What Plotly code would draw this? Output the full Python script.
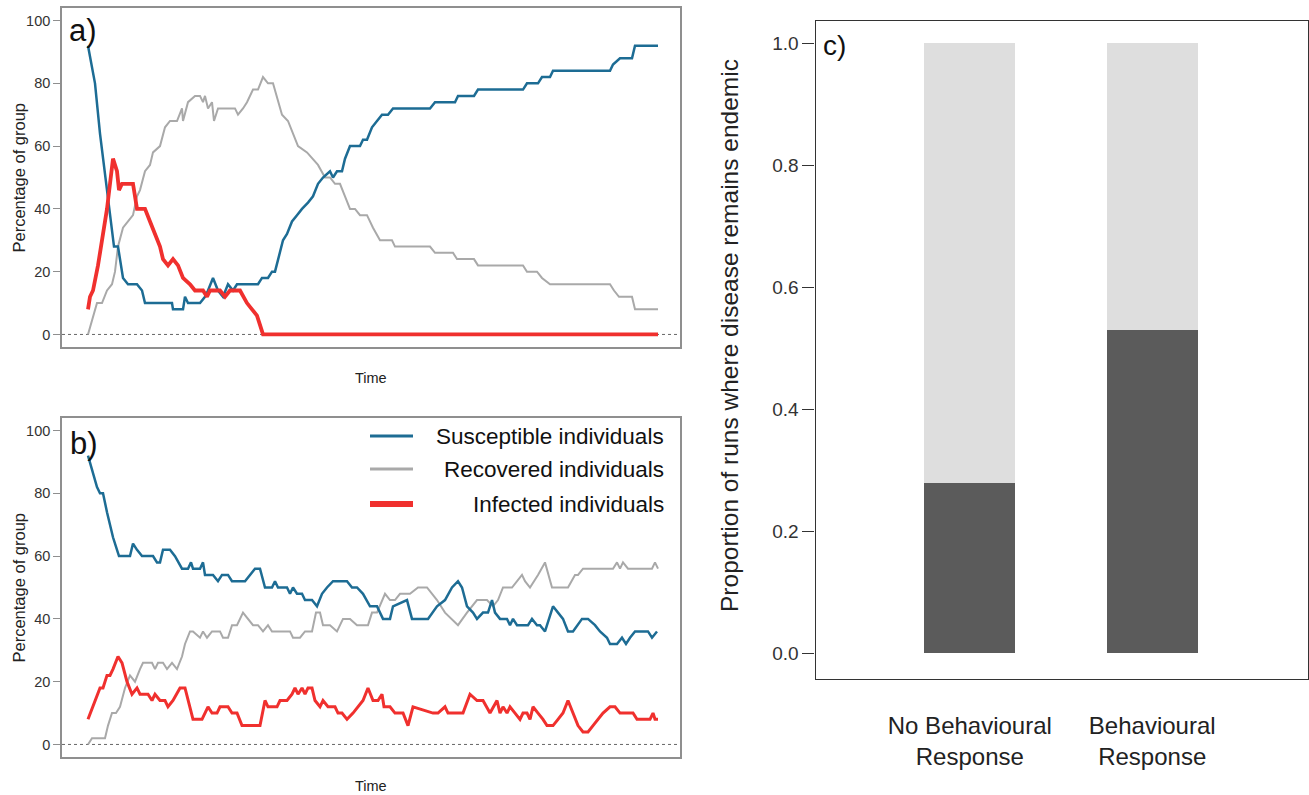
import plotly.graph_objects as go

# ---------------- DATA ----------------
# Panel a) - no behavioural response (disease dies out)
t_a_S = [0, 7, 12, 19, 24, 26, 30, 35, 40, 49, 54, 57, 84, 85, 95, 97, 100, 112, 117, 120,
         125, 130, 135, 140, 145, 149, 170, 174, 180, 184, 187, 190, 195, 199, 204, 209, 214, 220, 225, 230,
         235, 242, 245, 249, 254, 257, 262, 272, 275, 279, 284, 289, 294, 300, 305, 342, 347, 367, 370, 386,
         390, 435, 439, 450, 454, 462, 465, 522, 525, 532, 544, 547, 570]
S_a = [92, 80, 64, 46, 32, 28, 28, 18, 16, 16, 14, 10, 10, 8, 8, 12, 10, 10, 12, 14,
       18, 14, 12, 16, 14, 16, 16, 18, 18, 20, 20, 24, 30, 32, 36, 38, 40, 42, 44, 48,
       50, 52, 50, 52, 52, 56, 60, 60, 62, 62, 66, 68, 70, 70, 72, 72, 74, 74, 76, 76,
       78, 78, 80, 80, 82, 82, 84, 84, 86, 88, 88, 92, 92]

t_a_R = [0, 9, 14, 19, 24, 27, 30, 35, 40, 45, 49, 52, 57, 62, 65, 72, 77, 82, 89, 94,
         95, 100, 107, 112, 115, 117, 120, 124, 126, 130, 147, 150, 155, 159, 165, 170, 175, 180, 185, 194,
         200, 205, 210, 219, 225, 230, 237, 242, 247, 252, 257, 262, 267, 272, 279, 285, 292, 304, 307, 342,
         347, 365, 369, 386, 390, 435, 439, 449, 454, 462, 522, 526, 531, 544, 547, 570]
R_a = [0, 10, 10, 14, 16, 20, 28, 34, 36, 38, 44, 46, 52, 54, 58, 60, 66, 68, 68, 72,
       68, 74, 76, 76, 74, 76, 72, 74, 68, 72, 72, 70, 72, 74, 78, 78, 82, 80, 80, 70,
       68, 64, 60, 58, 56, 54, 50, 50, 48, 48, 44, 40, 40, 38, 38, 34, 30, 30, 28, 28,
       26, 26, 24, 24, 22, 22, 20, 20, 18, 16, 16, 14, 12, 12, 8, 8]

t_a_I = [0, 2, 5, 9, 10, 12, 15, 19, 22, 25, 29, 31, 34, 45, 49, 57, 62, 67, 72, 75,
         80, 85, 90, 95, 102, 107, 115, 119, 122, 125, 132, 137, 142, 152, 159, 164, 169, 171, 175, 570]
I_a = [8, 12, 14, 20, 22, 26, 32, 40, 48, 56, 52, 46, 48, 48, 40, 40, 36, 32, 28, 24,
       22, 24, 22, 18, 16, 14, 14, 12, 14, 14, 14, 12, 14, 14, 10, 8, 6, 4, 0, 0]

# Panel b) - behavioural response (disease remains endemic)
t_b_S = [0, 5, 9, 12, 15, 19, 22, 25, 29, 31, 42, 45, 49, 54, 65, 69, 72, 75, 82, 87,
         94, 100, 103, 105, 112, 115, 117, 125, 130, 134, 140, 144, 157, 162, 167, 172, 177, 184, 187, 190,
         199, 202, 205, 209, 214, 217, 224, 229, 234, 239, 245,
         250, 259, 264, 269, 275, 282, 289, 295, 302, 305, 319, 322, 324, 340, 349, 357, 364, 370, 374,
         379, 385, 389, 395, 400, 404, 407, 412, 419, 422, 425, 429, 440, 444, 449, 452, 457, 465, 470, 475,
         480, 485, 494, 500, 507, 512, 519, 522, 529, 534, 538, 542, 547, 560, 564, 569]
S_b = [92, 86, 82, 80, 80, 74, 70, 66, 62, 60, 60, 64, 62, 60, 60, 58, 58, 62, 62, 60,
       56, 56, 58, 56, 56, 58, 54, 54, 52, 54, 54, 52, 52, 54, 56, 56, 50, 50, 52, 50,
       50, 48, 50, 48, 48, 46, 46, 44, 48, 50, 52,
       52, 52, 50, 50, 48, 44, 44, 40, 40, 44, 46, 42, 40, 40, 44, 46, 50, 52, 50,
       44, 42, 40, 42, 42, 46, 42, 40, 40, 38, 40, 38, 38, 40, 38, 38, 36, 44, 42, 40,
       36, 36, 40, 40, 38, 36, 34, 32, 32, 34, 32, 34, 36, 36, 34, 36]

t_b_R = [0, 4, 17, 20, 24, 28, 32, 37, 42, 47, 52, 55, 64, 67, 70, 75, 79, 84, 89, 94,
         97, 102, 105, 112, 115, 119, 124, 132, 135, 140, 144, 149, 155, 160, 165, 170, 175, 180, 184, 202,
         205, 212, 217, 224, 228, 232, 235, 242,
         249, 255, 262, 269, 280, 284, 289, 297, 302, 307, 312, 322, 330, 339, 349, 357, 364, 370, 379, 389,
         399, 405, 410, 415, 424, 434, 437, 442, 450, 457, 464, 480, 487, 490, 495, 525, 529, 532, 535, 540,
         564, 567, 570]
R_b = [0, 2, 2, 6, 10, 10, 12, 18, 22, 20, 24, 26, 26, 24, 26, 26, 24, 26, 24, 28,
       32, 36, 36, 34, 36, 34, 36, 36, 34, 34, 38, 38, 42, 40, 38, 38, 36, 38, 36, 36,
       34, 34, 36, 36, 42, 42, 38, 38,
       36, 40, 40, 38, 38, 42, 42, 48, 46, 46, 48, 48, 50, 50, 46, 42, 40, 38, 42, 46,
       46, 44, 46, 50, 50, 54, 52, 50, 54, 58, 50, 50, 54, 54, 56, 56, 58, 56, 58, 56,
       56, 58, 56]

t_b_I = [0, 5, 12, 15, 19, 22, 25, 30, 34, 39, 44, 49, 52, 60, 64, 67, 72, 77, 80, 85,
         92, 97, 102, 105, 114, 120, 124, 129, 132, 140, 144, 149, 154, 172, 177, 180, 189, 192, 199, 204,
         207, 210, 214, 217, 220, 224, 227, 232, 235, 240,
         247, 250, 254, 259, 265, 270, 275, 280, 285, 290, 294, 296, 302, 307, 315, 320, 325, 345, 350, 357,
         360, 375, 382, 389, 395, 402, 409, 412, 415, 419, 422, 427, 432, 435, 439, 442, 445, 450, 455, 459,
         465, 470, 475, 480, 485, 490, 495, 500, 505, 510, 515, 522, 527, 532, 545, 549, 562, 565, 567, 570]
I_b = [8, 12, 18, 18, 22, 22, 24, 28, 26, 20, 16, 18, 16, 16, 14, 16, 14, 14, 12, 14,
       18, 18, 12, 8, 8, 12, 10, 10, 12, 12, 10, 10, 6, 6, 14, 12, 12, 14, 14, 16,
       18, 16, 18, 16, 18, 18, 14, 12, 14, 12,
       12, 10, 10, 8, 10, 12, 14, 18, 14, 14, 16, 12, 12, 10, 10, 6, 12, 10, 10, 12,
       10, 10, 16, 14, 14, 10, 14, 10, 12, 10, 12, 10, 8, 10, 10, 8, 12, 10, 8, 6,
       6, 8, 10, 14, 10, 6, 4, 4, 6, 8, 10, 12, 12, 10, 10, 8, 8, 10, 8, 8]

# Panel c)
categories = ["No Behavioural<br>Response", "Behavioural<br>Response"]
endemic = [0.28, 0.53]
not_endemic = [0.72, 0.47]
c_ticks = [0.0, 0.2, 0.4, 0.6, 0.8, 1.0]
c_ticklabels = ["0.0", "0.2", "0.4", "0.6", "0.8", "1.0"]
pct_ticks = [0, 20, 40, 60, 80, 100]

series_names = ["Susceptible individuals", "Recovered individuals", "Infected individuals"]

# ---------------- STYLE ----------------
W, H = 1309, 795
BLUE = "#1d6c94"
GREY = "#a9a9a9"
RED = "#f0302e"
FONT = "Liberation Sans, Arial, sans-serif"

def px(x):
    return x / W

def py(y):
    return 1 - y / H

fig = go.Figure()

# panel a
fig.add_trace(go.Scatter(x=t_a_R, y=R_a, mode="lines", line=dict(color=GREY, width=2),
                         name=series_names[1], xaxis="x", yaxis="y", showlegend=False))
fig.add_trace(go.Scatter(x=t_a_S, y=S_a, mode="lines", line=dict(color=BLUE, width=2.5),
                         name=series_names[0], xaxis="x", yaxis="y", showlegend=False))
fig.add_trace(go.Scatter(x=t_a_I, y=I_a, mode="lines", line=dict(color=RED, width=3.8),
                         name=series_names[2], xaxis="x", yaxis="y", showlegend=False))
# panel b
fig.add_trace(go.Scatter(x=t_b_R, y=R_b, mode="lines", line=dict(color=GREY, width=2),
                         name=series_names[1], xaxis="x2", yaxis="y2", showlegend=False))
fig.add_trace(go.Scatter(x=t_b_S, y=S_b, mode="lines", line=dict(color=BLUE, width=2.5),
                         name=series_names[0], xaxis="x2", yaxis="y2", showlegend=False))
fig.add_trace(go.Scatter(x=t_b_I, y=I_b, mode="lines", line=dict(color=RED, width=3),
                         name=series_names[2], xaxis="x2", yaxis="y2", showlegend=False))
# panel c
fig.add_trace(go.Bar(x=[0, 1], y=endemic, width=0.5, marker=dict(color="#5b5b5b", line=dict(width=0)),
                     xaxis="x3", yaxis="y3", showlegend=False, name="Endemic"))
fig.add_trace(go.Bar(x=[0, 1], y=not_endemic, width=0.5, marker=dict(color="#dedede", line=dict(width=0)),
                     xaxis="x3", yaxis="y3", showlegend=False, name="Not endemic"))

box_grey = "#8f8f8f"
common_x = dict(range=[-26, 592], showticklabels=False, ticks="", showgrid=False, zeroline=False,
                showline=True, mirror=True, linecolor=box_grey, linewidth=1.6)
common_y = dict(range=[-4, 104], tickvals=pct_ticks, ticks="outside", ticklen=7, tickcolor=box_grey,
                tickwidth=1.2, showgrid=False, zeroline=False, showline=True, mirror=True,
                linecolor=box_grey, linewidth=1.6, tickfont=dict(size=14.5, color="#333", family=FONT))

fig.update_layout(
    width=W, height=H, margin=dict(l=0, r=0, t=0, b=0),
    paper_bgcolor="white", plot_bgcolor="white", barmode="stack",
    font=dict(family=FONT, color="#222"),
    xaxis=dict(domain=[px(62), px(680)], anchor="y", **common_x),
    yaxis=dict(domain=[py(347), py(8)], anchor="x", **common_y),
    xaxis2=dict(domain=[px(62), px(680)], anchor="y2", **common_x),
    yaxis2=dict(domain=[py(757), py(418)], anchor="x2", **common_y),
    xaxis3=dict(domain=[px(815.5), px(1308)], anchor="y3", range=[-0.846, 1.854],
                tickvals=[0, 1], ticktext=categories, ticks="", ticklabelstandoff=25,
                tickfont=dict(size=24, color="#222", family=FONT),
                showgrid=False, zeroline=False, showline=True, mirror=True,
                linecolor="#333", linewidth=1.3),
    yaxis3=dict(domain=[py(679), py(20.7)], anchor="x3", range=[-0.042, 1.037],
                tickvals=c_ticks, ticktext=c_ticklabels, ticks="outside", ticklen=12,
                tickcolor="#333", tickwidth=1.2, tickfont=dict(size=19, color="#333", family=FONT),
                showgrid=False, zeroline=False, showline=True, mirror=True,
                linecolor="#333", linewidth=1.3),
)

# dotted zero lines
for xr, yr in [("x domain", "y"), ("x2 domain", "y2")]:
    fig.add_shape(type="line", xref=xr, yref=yr, x0=0, x1=1, y0=0, y1=0,
                  line=dict(color="#666", width=1, dash="dot"), layer="below")

annotations = []
# panel letters
annotations.append(dict(text="a)", x=px(67), y=py(31), xref="paper", yref="paper",
                        xanchor="left", yanchor="middle", showarrow=False,
                        font=dict(size=31, color="#111", family=FONT)))
annotations.append(dict(text="b)", x=px(68), y=py(443), xref="paper", yref="paper",
                        xanchor="left", yanchor="middle", showarrow=False,
                        font=dict(size=31, color="#111", family=FONT)))
annotations.append(dict(text="c)", x=px(821), y=py(46), xref="paper", yref="paper",
                        xanchor="left", yanchor="middle", showarrow=False,
                        font=dict(size=28, color="#111", family=FONT)))
# axis titles
for yc in [177.5, 587.5]:
    annotations.append(dict(text="Percentage of group", x=px(18), y=py(yc), xref="paper", yref="paper",
                            xanchor="center", yanchor="middle", textangle=-90, showarrow=False,
                            font=dict(size=16.5, color="#222", family=FONT)))
for yc in [378, 786]:
    annotations.append(dict(text="Time", x=px(371), y=py(yc), xref="paper", yref="paper",
                            xanchor="center", yanchor="middle", showarrow=False,
                            font=dict(size=14.5, color="#222", family=FONT)))
annotations.append(dict(text="Proportion of runs where disease remains endemic", x=px(729), y=py(336),
                        xref="paper", yref="paper", xanchor="center", yanchor="middle", textangle=-90,
                        showarrow=False, font=dict(size=24.5, color="#222", family=FONT)))

# legend in panel b (right-aligned text, as in the original)
leg_rows = [(436, BLUE, 3, series_names[0]), (469, GREY, 3, series_names[1]), (504, RED, 6, series_names[2])]
for yy, col, lw, name in leg_rows:
    fig.add_shape(type="line", xref="paper", yref="paper", x0=px(370), x1=px(413), y0=py(yy), y1=py(yy),
                  line=dict(color=col, width=lw))
    annotations.append(dict(text=name, x=px(666), y=py(yy), xref="paper", yref="paper",
                            xanchor="right", yanchor="middle", showarrow=False,
                            font=dict(size=22.5, color="#111", family=FONT)))

fig.update_layout(annotations=annotations)

fig.write_html("out.html", config={"displayModeBar": False},
               post_script="document.body.style.margin='0px';document.body.style.overflow='hidden';")
